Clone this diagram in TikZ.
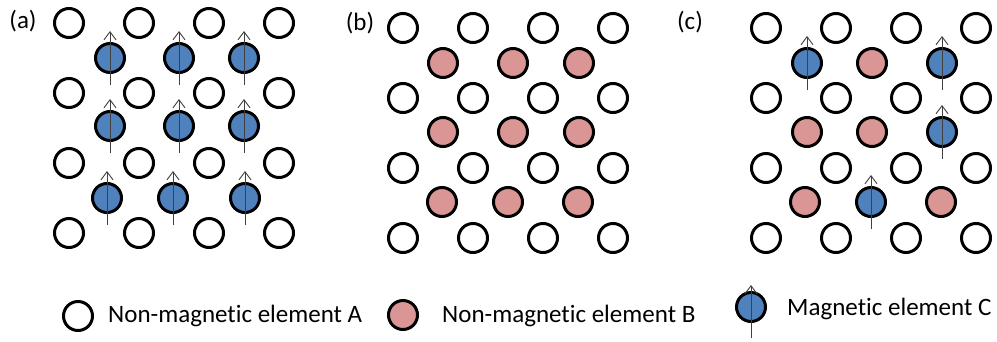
\documentclass[tikz,border=0pt]{standalone}
\usepackage{fontspec}
\setmainfont{Carlito}[Ligatures=NoCommon]
\usetikzlibrary{arrows.meta}
\definecolor{spinblue}{HTML}{4F81BD}
\definecolor{nonmagpink}{HTML}{D99694}
\tikzset{
  atomA/.style = {circle, draw=black, line width=3pt, fill=white,
                  minimum size=29pt, inner sep=0pt},
  atomB/.style = {atomA, fill=nonmagpink},
  atomC/.style = {atomA, fill=spinblue},
  spin/.style  = {line width=0.9pt, draw=black!75,
                  -{Straight Barb[length=8pt, width=12pt]}},
  lab/.style   = {font=\fontsize{25}{30}\selectfont, inner sep=0pt},
}

\begin{document}
\begin{tikzpicture}[x=1pt, y=-1pt]
\useasboundingbox (0,0) rectangle (997,341);

% Panel labels
\node (la) [lab] at (23,21) {(a)};
\node (lb) [lab] at (360,23) {(b)};
\node (lc) [lab] at (690,22) {(c)};

% Non-magnetic element A: the same square lattice in all three panels
\foreach \x/\y/\p in {69/23/a, 403/28/b, 766/28/c} {
  \foreach \i in {0,...,3} {
    \foreach \j in {0,...,3} {
      \node (\p w\i\j) [atomA] at (\x+70*\i, \y+70*\j) {};
    }
  }
}

% (a): magnetic element C on every inner site
\node (a11) [atomC] at (110,58) {};
\node (a12) [atomC] at (179,58) {};
\node (a13) [atomC] at (244,58) {};
\node (a21) [atomC] at (110,126) {};
\node (a22) [atomC] at (179,126) {};
\node (a23) [atomC] at (244,126) {};
\node (a31) [atomC] at (107,198) {};
\node (a32) [atomC] at (173,198) {};
\node (a33) [atomC] at (245,198) {};

% (b): non-magnetic element B on every inner site
\node (b11) [atomB] at (443,63) {};
\node (b12) [atomB] at (513,63) {};
\node (b13) [atomB] at (579,63) {};
\node (b21) [atomB] at (443,132) {};
\node (b22) [atomB] at (513,132) {};
\node (b23) [atomB] at (579,132) {};
\node (b31) [atomB] at (442,202) {};
\node (b32) [atomB] at (508,202) {};
\node (b33) [atomB] at (578,202) {};

% (c): B and C mixed
\node (c11) [atomC] at (807,63) {};
\node (c12) [atomB] at (872,63) {};
\node (c13) [atomC] at (942,63) {};
\node (c21) [atomB] at (807,132) {};
\node (c22) [atomB] at (872,132) {};
\node (c23) [atomC] at (942,132) {};
\node (c31) [atomB] at (805,202) {};
\node (c32) [atomC] at (871,202) {};
\node (c33) [atomB] at (941,202) {};

% Spins
\foreach \n in {a11,a12,a13,a21,a22,a23,a31,a32,a33,c11,c13,c23,c32}
  \draw [spin] ([yshift=-27pt]\n.center) -- ([yshift=27pt]\n.center);

% Legend
\node (legA) [atomA] at (78,316) {};
\node (txtA) [lab, anchor=base west] at (108,322) {Non-magnetic element A};
\node (legB) [atomB] at (403,315) {};
\node (txtB) [lab, anchor=base west] at (442,322) {Non-magnetic element B};
\node (legC) [atomC] at (751,307) {};
\draw [spin] ([yshift=-31pt]legC.center) -- ([yshift=22pt]legC.center);
\node (txtC) [lab, anchor=base west] at (787,315) {Magnetic element C};

\end{tikzpicture}
\end{document}
